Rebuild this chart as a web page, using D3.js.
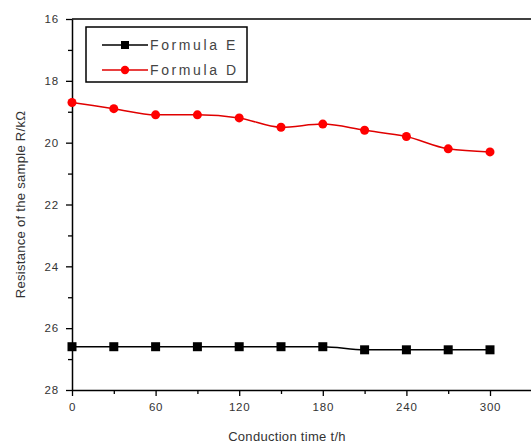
<!DOCTYPE html>
<html>
<head>
<meta charset="utf-8">
<script src="https://cdn.jsdelivr.net/npm/d3@7"></script>
<style>
  body { margin: 0; background: #fff; }
  text { font-family: "Liberation Sans", Arial, sans-serif; }
</style>
</head>
<body>
<script>
var times = [0, 30, 60, 90, 120, 150, 180, 210, 240, 270, 300];
var formulaE = [26.6, 26.6, 26.6, 26.6, 26.6, 26.6, 26.6, 26.7, 26.7, 26.7, 26.7];
var formulaD = [18.7, 18.9, 19.1, 19.1, 19.2, 19.5, 19.4, 19.6, 19.8, 20.2, 20.3];
var xTicks = [0, 60, 120, 180, 240, 300];
var yTicks = [16, 18, 20, 22, 24, 26, 28];

var width = 531, height = 446;
var plotLeft = 72, plotTop = 19, plotBottom = 390;

var svg = d3.select("body").append("svg")
    .attr("width", width)
    .attr("height", height);

var x = d3.scaleLinear().domain([0, 330]).range([plotLeft, plotLeft + 330 * (418 / 300)]);
var y = d3.scaleLinear().domain([16, 28]).range([plotTop, plotBottom]);

// top frame line
svg.append("line")
    .attr("x1", plotLeft).attr("x2", width + 5)
    .attr("y1", plotTop).attr("y2", plotTop)
    .attr("stroke", "#000").attr("stroke-width", 1.5);

// x axis
svg.append("g")
    .attr("transform", "translate(0," + plotBottom + ")")
    .call(d3.axisBottom(x).tickValues(xTicks).tickSize(6).tickPadding(7).tickSizeOuter(0));
svg.append("g")
    .attr("transform", "translate(0," + plotBottom + ")")
    .call(d3.axisBottom(x).tickValues(d3.range(30, 330, 60)).tickSize(4).tickFormat("").tickSizeOuter(0))
    .select(".domain").remove();

// y axis
svg.append("g")
    .attr("transform", "translate(" + plotLeft + ",0)")
    .call(d3.axisLeft(y).tickValues(yTicks).tickSize(6).tickPadding(7).tickSizeOuter(0));
svg.append("g")
    .attr("transform", "translate(" + plotLeft + ",0)")
    .call(d3.axisLeft(y).tickValues(d3.range(17, 28, 2)).tickSize(4).tickFormat("").tickSizeOuter(0))
    .select(".domain").remove();

svg.selectAll(".domain").attr("stroke-width", 1.5);
svg.selectAll(".tick line").attr("stroke-width", 1.3);
svg.selectAll(".tick text")
    .attr("font-size", 11.5)
    .attr("letter-spacing", 0.8)
    .attr("fill", "#333")
    .style("font-family", "'Liberation Sans', Arial, sans-serif");

// axis titles
svg.append("text")
    .attr("x", 287).attr("y", 441)
    .attr("text-anchor", "middle")
    .attr("font-size", 13)
    .attr("letter-spacing", 0.3)
    .attr("fill", "#333")
    .text("Conduction time t/h");

svg.append("text")
    .attr("transform", "translate(25," + ((plotTop + plotBottom) / 2) + ") rotate(-90)")
    .attr("text-anchor", "middle")
    .attr("font-size", 13)
    .attr("letter-spacing", 0.3)
    .attr("fill", "#333")
    .text("Resistance of the sample R/k\u03A9");

var line = d3.line()
    .curve(d3.curveMonotoneX)
    .x(function(d) { return x(d[0]); })
    .y(function(d) { return y(d[1]); });

var dataE = times.map(function(t, i) { return [t, formulaE[i]]; });
var dataD = times.map(function(t, i) { return [t, formulaD[i]]; });

svg.append("path")
    .datum(dataE)
    .attr("d", line)
    .attr("fill", "none")
    .attr("stroke", "#000")
    .attr("stroke-width", 1.5);

svg.selectAll(".ptE")
    .data(dataE)
    .enter().append("rect")
    .attr("x", function(d) { return x(d[0]) - 4.5; })
    .attr("y", function(d) { return y(d[1]) - 4.5; })
    .attr("width", 9).attr("height", 9)
    .attr("fill", "#000");

svg.append("path")
    .datum(dataD)
    .attr("d", line)
    .attr("fill", "none")
    .attr("stroke", "#e00000")
    .attr("stroke-width", 1.5);

svg.selectAll(".ptD")
    .data(dataD)
    .enter().append("circle")
    .attr("cx", function(d) { return x(d[0]); })
    .attr("cy", function(d) { return y(d[1]); })
    .attr("r", 4.5)
    .attr("fill", "#ff0000");

// legend
var legend = svg.append("g");
legend.append("rect")
    .attr("x", 86).attr("y", 27)
    .attr("width", 161).attr("height", 55)
    .attr("fill", "#fff")
    .attr("stroke", "#000")
    .attr("stroke-width", 1.5);

var legendItems = [
  { name: "Formula E", color: "#000", shape: "square", ly: 45 },
  { name: "Formula D", color: "#e00000", shape: "circle", ly: 70 }
];

legendItems.forEach(function(it) {
  legend.append("line")
      .attr("x1", 102).attr("x2", 148)
      .attr("y1", it.ly).attr("y2", it.ly)
      .attr("stroke", it.color).attr("stroke-width", 1.5);
  if (it.shape === "square") {
    legend.append("rect")
        .attr("x", 121).attr("y", it.ly - 4)
        .attr("width", 8).attr("height", 8)
        .attr("fill", it.color);
  } else {
    legend.append("circle")
        .attr("cx", 125).attr("cy", it.ly)
        .attr("r", 4.2)
        .attr("fill", "#ff0000");
  }
  legend.append("text")
      .attr("x", 150).attr("y", it.ly + 5)
      .attr("font-size", 14)
      .attr("letter-spacing", 2.6)
      .attr("fill", "#444")
      .text(it.name);
});
</script>
</body>
</html>
